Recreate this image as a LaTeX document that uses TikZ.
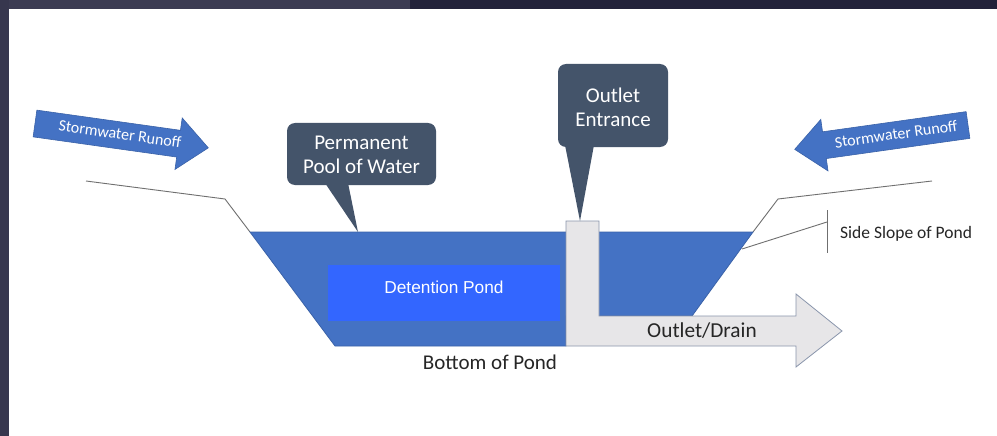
\documentclass[tikz,border=0pt]{standalone}
\usepackage{fontspec}
\setmainfont{Carlito}
\newfontfamily\arialf{Liberation Sans}
\definecolor{water}{HTML}{4472C4}
\definecolor{waterline}{HTML}{3A62A8}
\definecolor{pondblue}{HTML}{3366FF}
\definecolor{pipegrey}{HTML}{E7E6E8}
\definecolor{pipeline}{HTML}{8A96AC}
\definecolor{groundgrey}{HTML}{6F6F6F}
\definecolor{calloutfill}{HTML}{44546A}
\definecolor{labeltext}{HTML}{262626}
\definecolor{frameA}{HTML}{3B3B52}
\definecolor{frameB}{HTML}{22223A}
\begin{document}
\begin{tikzpicture}[x=1pt,y=-1pt]
\tikzset{
  waterfill/.style={fill=water, draw=waterline, line width=0.8},
  pipefill/.style={fill=pipegrey, draw=pipeline, line width=0.8},
  groundline/.style={draw=groundgrey, line width=0.9},
  calloutbox/.style={fill=calloutfill},
  calltext/.style={text=white, font=\fontsize{21}{24}\selectfont, align=center, inner sep=0},
  labeltxt/.style={text=labeltext, inner sep=0},
  runofftext/.style={text=white, font=\fontsize{16}{18}\selectfont, inner sep=0}
}
\useasboundingbox (0,0) rectangle (997,436);
\fill[white] (0,0) rectangle (997,436);
% dark frame of the screenshot
\fill[frameA] (0,0) rectangle (410,9);
\fill[frameB] (410,0) rectangle (997,9);
\fill[frameA!85!frameB] (0,0) rectangle (9,436);

% ground lines
\draw[groundline] (86,181) -- (225,199) -- (250,232);
\draw[groundline] (932,181) -- (778,199) -- (753,232);

% water body
\draw[waterfill] (250,232) -- (753,232) -- (692,316) -- (566,316) -- (566,346) -- (335,346) -- cycle;

% detention pond box
\fill[pondblue] (328,265) rectangle (560,321);
\node[text=white, font=\arialf\fontsize{17.3}{20}\selectfont, inner sep=0] (det) at (444,287) {Detention Pond};

% pipe and outlet arrow
\draw[pipefill] (566,221) -- (599,221) -- (599,316) -- (796,316) -- (796,294) -- (842,331)
  -- (796,367) -- (796,346) -- (566,346) -- cycle;
\node[labeltxt, font=\fontsize{21.3}{24}\selectfont] (drain) at (702,331) {Outlet/Drain};

% side slope pointer
\coordinate (slopept) at (742,249);
\coordinate (barmid) at (827,222);
\draw[groundline] (slopept) -- (barmid);
\draw[groundline] (827,210) -- (827,253);
\node[labeltxt, anchor=west, font=\fontsize{17.5}{20}\selectfont] (side) at (840,234) {Side Slope of Pond};

% bottom label
\node[labeltxt, font=\fontsize{21}{24}\selectfont] (bottom) at (490,362) {Bottom of Pond};

% callout: permanent pool
\fill[calloutbox, rounded corners=8] (287,123) rectangle (436,185);
\fill[calloutbox] (325,183) -- (358,232) -- (348,183) -- cycle;
\node[calltext] (pool) at (361.5,155) {Permanent\\Pool of Water};

% callout: outlet entrance
\fill[calloutbox, rounded corners=8] (558,64) rectangle (668,147);
\fill[calloutbox] (565,145) -- (580,221) -- (594,145) -- cycle;
\node[calltext] (entr) at (613,107) {Outlet\\Entrance};

% runoff arrows
\begin{scope}[shift={(35,123.5)}, rotate=-8]
  \draw[waterfill, line width=0.6] (0,-13.5) -- (145,-13.5) -- (145,-26) -- (175,0) -- (145,26) -- (145,13.5) -- (0,13.5) -- cycle;
\end{scope}
\node[runofftext, rotate=-8] (runl) at (120,134) {Stormwater Runoff};
\begin{scope}[shift={(968,125)}, rotate=8]
  \draw[waterfill, line width=0.6] (0,-13.5) -- (-145,-13.5) -- (-145,-26) -- (-175,0) -- (-145,26) -- (-145,13.5) -- (0,13.5) -- cycle;
\end{scope}
\node[runofftext, rotate=8] (runr) at (896,134) {Stormwater Runoff};
\end{tikzpicture}
\end{document}
